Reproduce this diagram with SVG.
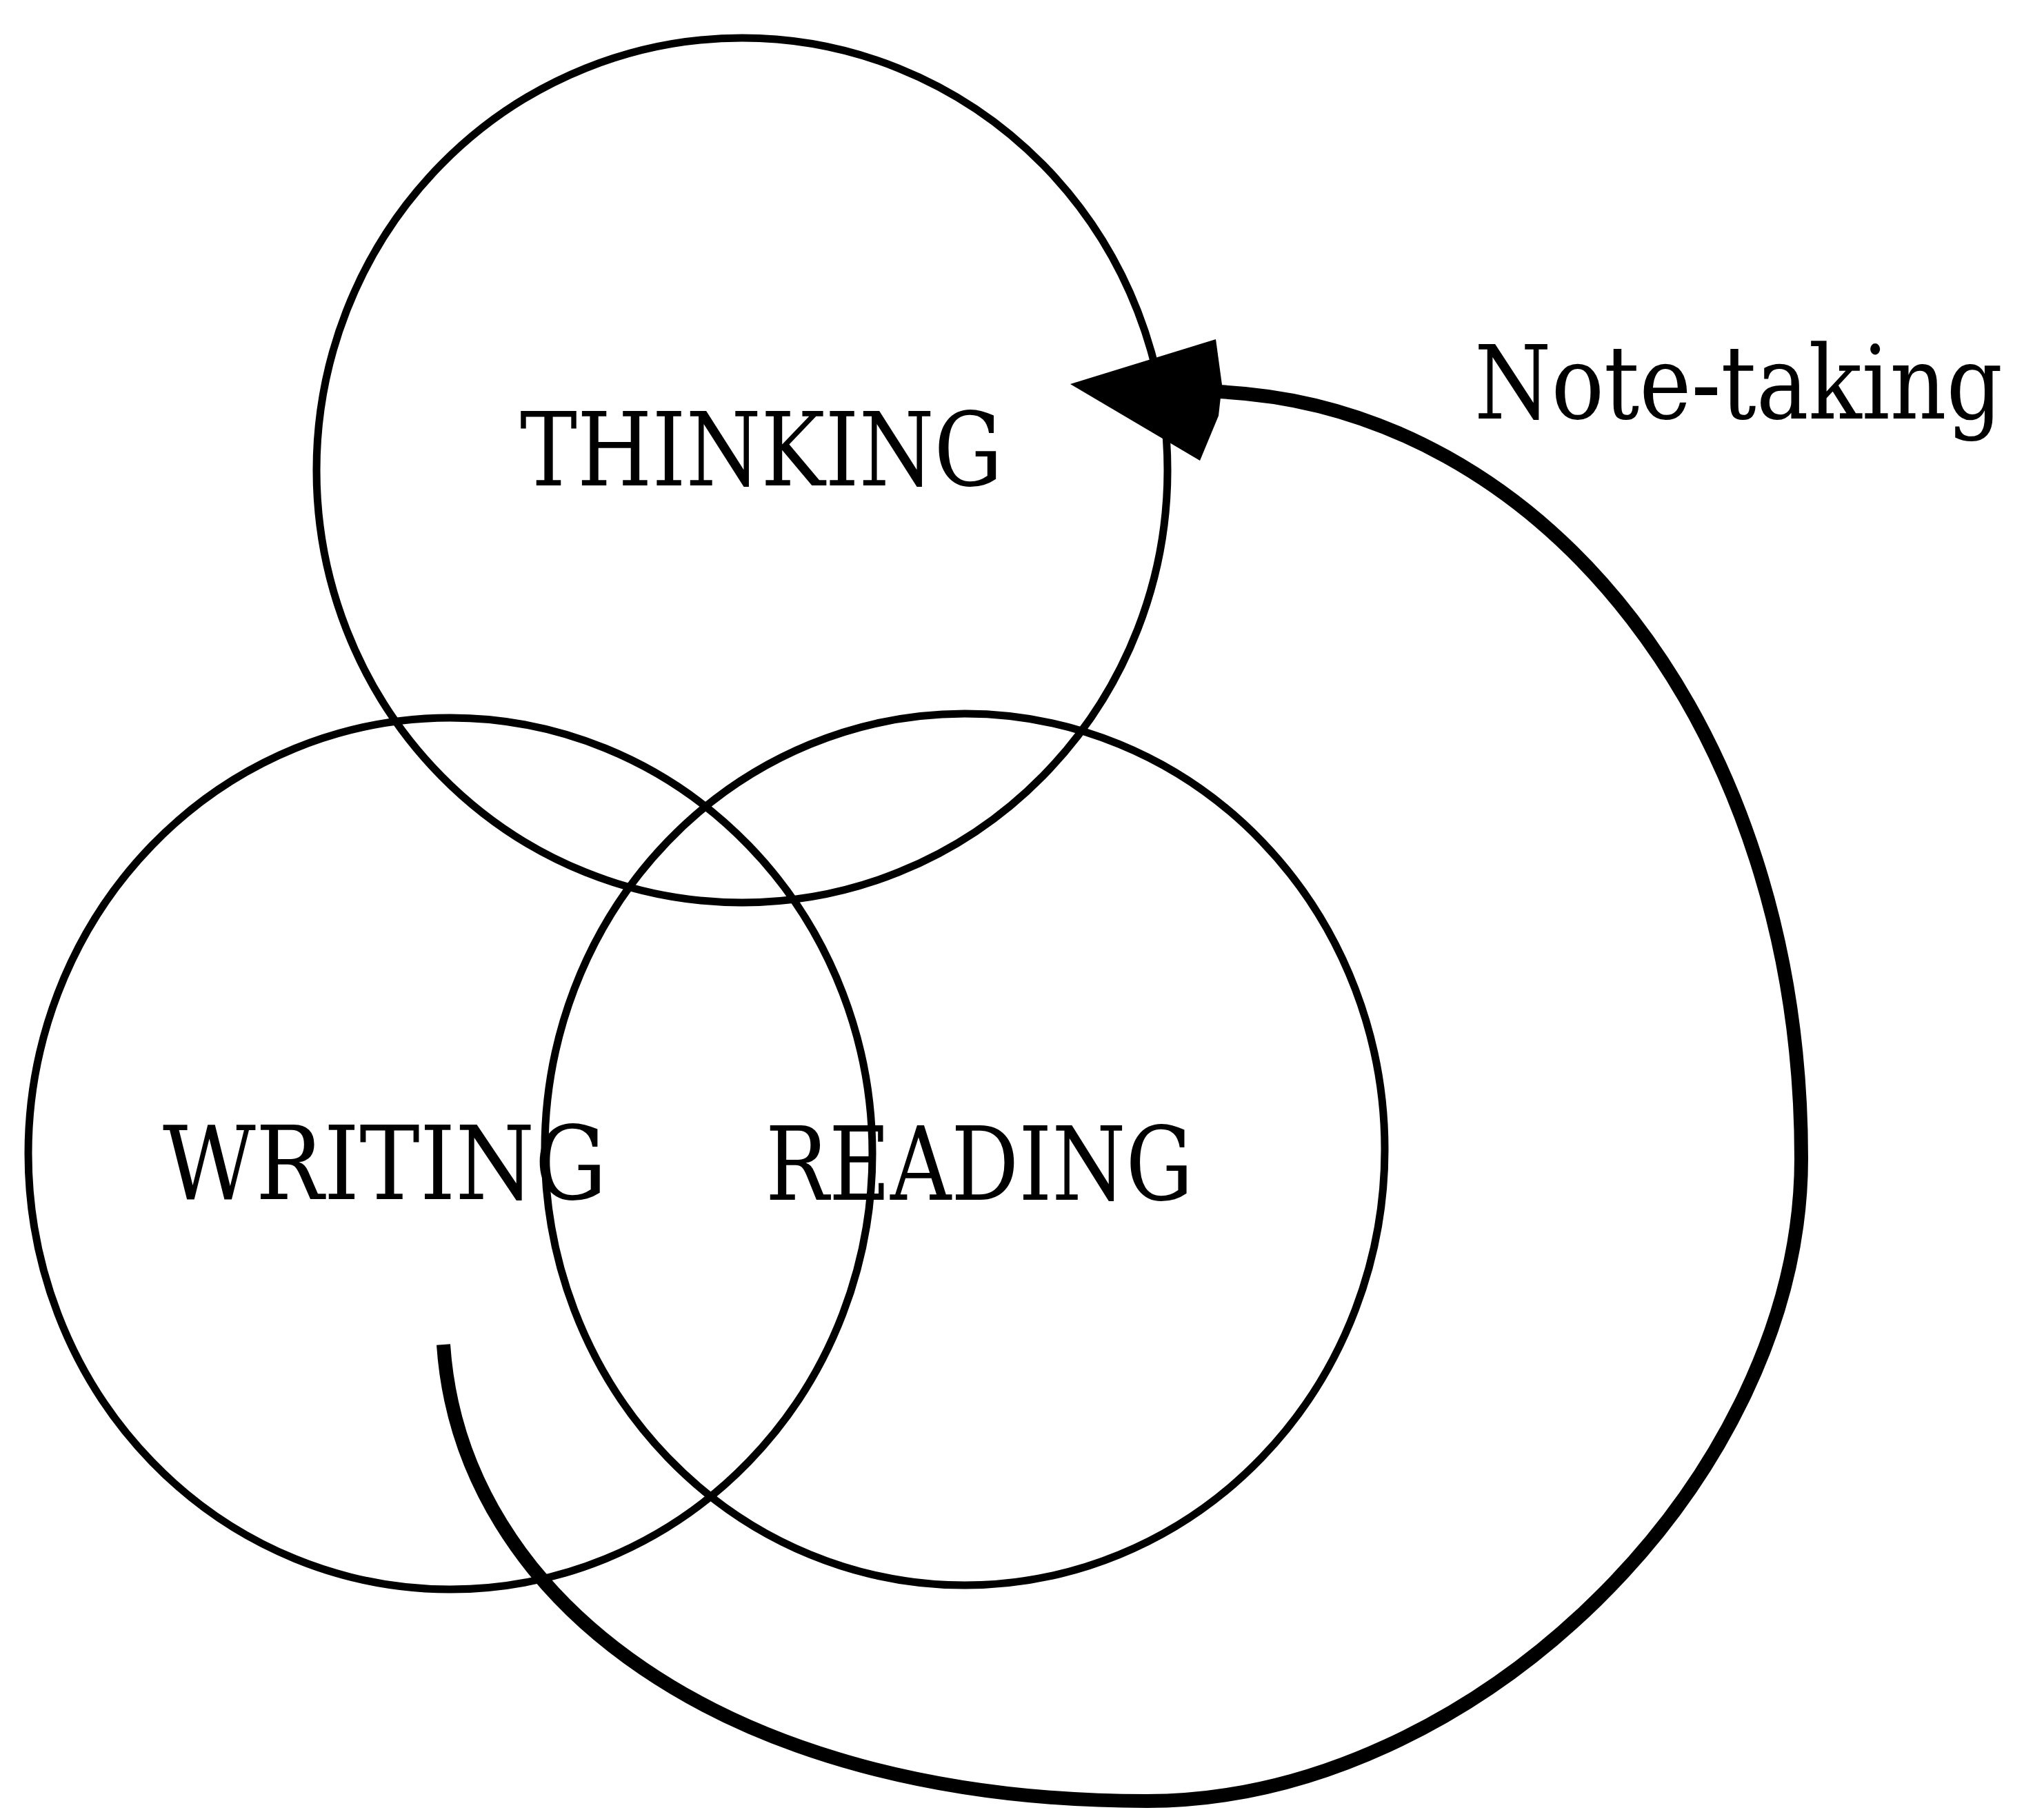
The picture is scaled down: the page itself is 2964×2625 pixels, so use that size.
<svg xmlns="http://www.w3.org/2000/svg" width="2964" height="2625" viewBox="0 0 2964 2625">
  <style>
    .circle { fill: none; stroke: #000; stroke-width: 11; }
    .label { font-family: "DejaVu Serif", "Liberation Serif", serif; font-stretch: condensed; font-size: 147px; fill: #000; }
    .flow { fill: none; stroke: #000; stroke-width: 20; stroke-linecap: butt; }
  </style>
  <rect width="2964" height="2625" fill="#fff"/>
  <g id="thinking">
    <ellipse class="circle" cx="1076" cy="682" rx="617" ry="627"/>
    <text class="label" x="754" y="704" textLength="700" lengthAdjust="spacingAndGlyphs">THINKING</text>
  </g>
  <g id="writing">
    <ellipse class="circle" cx="653" cy="1673" rx="612" ry="632"/>
    <text class="label" x="236" y="1739" textLength="644" lengthAdjust="spacingAndGlyphs">WRITING</text>
  </g>
  <g id="reading">
    <ellipse class="circle" cx="1399" cy="1667" rx="609" ry="632"/>
    <text class="label" x="1110" y="1740" textLength="620" lengthAdjust="spacingAndGlyphs">READING</text>
  </g>
  <g id="note-taking-label">
    <text class="label" x="2138" y="607" textLength="766" lengthAdjust="spacingAndGlyphs">Note-taking</text>
  </g>
  <g id="connectors">
    <path class="flow" d="M 643 1950 C 668 2320 1050 2612 1663 2612 C 2137 2612 2612 2146 2612 1680 C 2612 1057 2240 588 1765 568"/>
    <polygon points="1552,557 1763,492 1772,558 1767,603 1740,668" fill="#000"/>
  </g>
</svg>
